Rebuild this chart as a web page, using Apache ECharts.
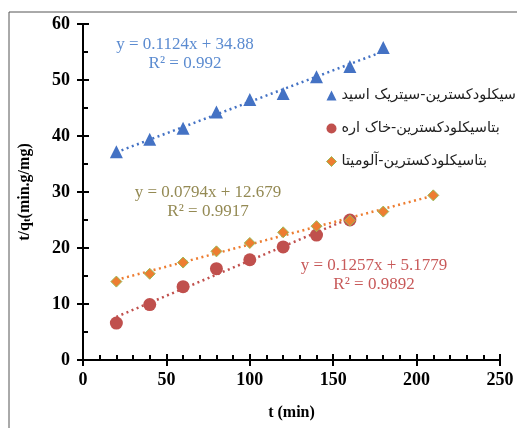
<!DOCTYPE html>
<html><head><meta charset="utf-8">
<script src="https://cdn.jsdelivr.net/npm/echarts@6/dist/echarts.min.js"></script>
<style>html,body{margin:0;padding:0;background:#fff}#c{width:517px;height:428px}</style>
</head><body><div id="c"></div>
<script>
// ---- data ----
const seriesNames = ['بتاسیکلودکسترین-سیتریک اسید', 'بتاسیکلودکسترین-خاک اره', 'بتاسیکلودکسترین-آلومیتا'];
const tBlue = [20, 40, 60, 80, 100, 120, 140, 160, 180];
const yBlue = [37.2, 39.4, 41.4, 44.3, 46.5, 47.6, 50.6, 52.4, 55.8];
const tRed = [20, 40, 60, 80, 100, 120, 140, 160];
const yRed = [6.6, 9.9, 13.1, 16.3, 17.9, 20.2, 22.3, 25.0];
const tOrange = [20, 40, 60, 80, 100, 120, 140, 160, 180, 210];
const yOrange = [14.0, 15.4, 17.4, 19.4, 20.9, 22.8, 23.9, 24.9, 26.5, 29.4];
// trendline endpoints as drawn
const trendBlue = [[20, 37.1], [180, 55.1]];
const trendRed = [[20, 7.7], [160, 25.3]];
const trendOrange = [[20, 14.3], [210, 29.35]];
const eqBlue = ['y = 0.1124x + 34.88', 'R² = 0.992'];
const eqRed = ['y = 0.1257x + 5.1779', 'R² = 0.9892'];
const eqOrange = ['y = 0.0794x + 12.679', 'R² = 0.9917'];
const xTicks = {min: 0, max: 250, interval: 50};
const yTicks = {min: 0, max: 60, interval: 10};

const zip = (a, b) => a.map((v, i) => [v, b[i]]);
const chart = echarts.init(document.getElementById('c'), null, {renderer: 'canvas'});
const serif = '"Liberation Serif","Times New Roman",serif';
const cBlue = '#4472C4', cRed = '#C0504D', cOrange = '#ED7D31';
const tBlueTxt = '#5B8BD0', tRedTxt = '#C85A5A', tOliveTxt = '#948A54';

const gridL = 83, gridT = 24, gridR = 17, gridB = 68;
const axisBase = {
  axisLine: {show: true, onZero: false, lineStyle: {color: '#000', width: 2}},
  splitLine: {show: false}
};
function eqText(lines, color, cx, cyTop) {
  return lines.map((s, i) => ({
    type: 'text', x: cx, y: cyTop + i * 19,
    style: {text: s, fill: color, font: '17px ' + serif, textAlign: 'center', textVerticalAlign: 'middle'}
  }));
}

chart.setOption({
  backgroundColor: '#fff',
  animation: false,
  grid: {left: gridL, top: gridT, right: gridR, bottom: gridB},
  xAxis: [
    Object.assign({type: 'value', min: xTicks.min, max: xTicks.max, interval: xTicks.interval,
      name: 't (min)', nameLocation: 'middle', nameGap: 45,
      nameTextStyle: {fontFamily: serif, fontWeight: 'bold', fontSize: 16, color: '#000'},
      axisTick: {show: true, inside: false, length: 6, lineStyle: {color: '#000', width: 2}},
      axisLabel: {fontFamily: serif, fontWeight: 'bold', fontSize: 18, color: '#000', margin: 11}}, axisBase),
    Object.assign({type: 'value', min: xTicks.min, max: xTicks.max, interval: xTicks.interval, position: 'bottom',
      axisTick: {show: true, inside: true, length: 6, lineStyle: {color: '#000', width: 2}},
      minorTick: {show: true, splitNumber: 5, length: 5, lineStyle: {color: '#000', width: 2}},
      axisLabel: {show: false}}, axisBase)
  ],
  yAxis: [
    Object.assign({type: 'value', min: yTicks.min, max: yTicks.max, interval: yTicks.interval,
      name: '{a|t/q}{b|t}{a|(min.g/mg)}', nameLocation: 'middle', nameGap: 50, nameRotate: 90,
      nameTextStyle: {rich: {
        a: {fontFamily: serif, fontWeight: 'bold', fontSize: 16, color: '#000'},
        b: {fontFamily: serif, fontWeight: 'bold', fontSize: 11, color: '#000', padding: [6, 0, 0, 0]}}},
      axisTick: {show: true, inside: false, length: 6, lineStyle: {color: '#000', width: 2}},
      axisLabel: {fontFamily: serif, fontWeight: 'bold', fontSize: 18, color: '#000', margin: 13}}, axisBase),
    Object.assign({type: 'value', min: yTicks.min, max: yTicks.max, interval: yTicks.interval, position: 'left', offset: 0,
      axisTick: {show: true, inside: true, length: 6, lineStyle: {color: '#000', width: 2}},
      minorTick: {show: true, splitNumber: 2, length: 5, lineStyle: {color: '#000', width: 2}},
      axisLabel: {show: false}}, axisBase)
  ],
  legend: {
    orient: 'vertical', left: 321, top: 83, itemGap: 18, itemWidth: 10, itemHeight: 10,
    data: [
      {name: seriesNames[0], icon: 'triangle', itemStyle: {color: cBlue}},
      {name: seriesNames[1], icon: 'circle', itemStyle: {color: cRed}},
      {name: seriesNames[2], icon: 'diamond', itemStyle: {color: cOrange, borderColor: '#9BBB59', borderWidth: 1}}
    ],
    textStyle: {fontFamily: '"DejaVu Sans","Noto Sans",sans-serif', fontSize: 14.5, color: '#222'}
  },
  series: [
    {type: 'line', data: trendBlue, symbol: 'none', silent: true, lineStyle: {color: cBlue, width: 2.5, type: [2, 3.5]}, z: 1},
    {type: 'line', data: trendRed, symbol: 'none', silent: true, lineStyle: {color: cRed, width: 2.5, type: [2, 3.5]}, z: 1},
    {type: 'line', data: trendOrange, symbol: 'none', silent: true, lineStyle: {color: cOrange, width: 2.5, type: [2, 3.5]}, z: 1},
    {name: seriesNames[0], type: 'scatter', data: zip(tBlue, yBlue), symbol: 'triangle', symbolSize: 13, itemStyle: {color: cBlue, opacity: 1}, z: 3},
    {name: seriesNames[1], type: 'scatter', data: zip(tRed, yRed), symbol: 'circle', symbolSize: 13, itemStyle: {color: cRed, opacity: 1}, z: 3},
    {name: seriesNames[2], type: 'scatter', data: zip(tOrange, yOrange), symbol: 'diamond', symbolSize: 11, itemStyle: {color: cOrange, borderColor: '#9BBB59', borderWidth: 1, opacity: 1}, z: 3}
  ],
  graphic: [
    {type: 'rect', shape: {x: 9, y: 12, width: 560, height: 460}, style: {fill: 'none', stroke: '#555', lineWidth: 1}, silent: true, z: -1}
  ].concat(eqText(eqBlue, tBlueTxt, 185, 45), eqText(eqOrange, tOliveTxt, 208, 193), eqText(eqRed, tRedTxt, 374, 266))
});
</script></body></html>
